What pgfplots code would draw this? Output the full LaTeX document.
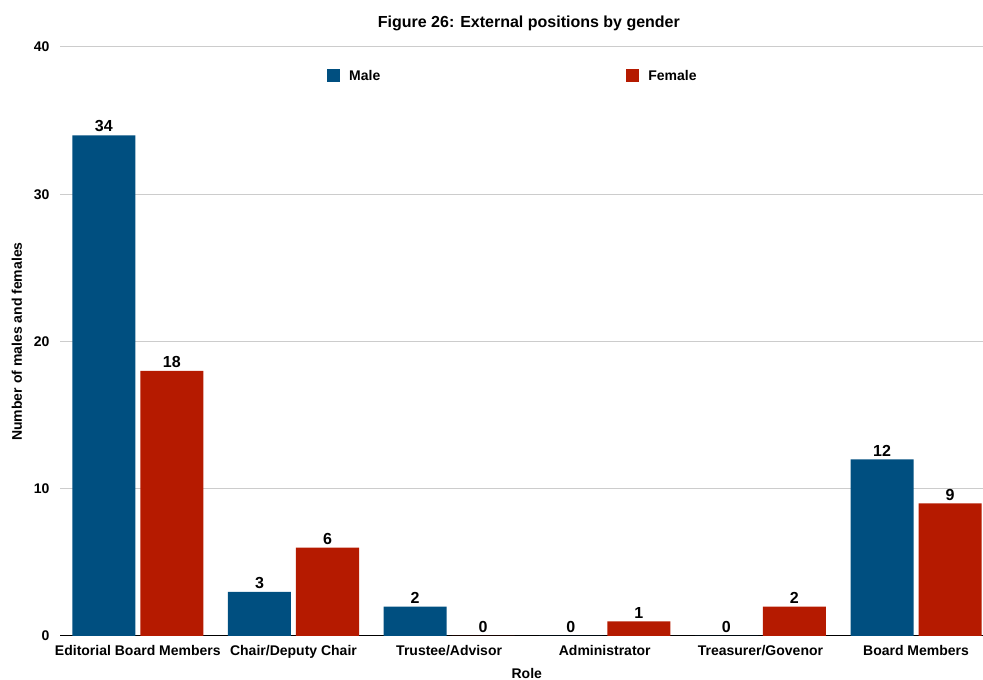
\documentclass[border=0pt]{standalone}
\usepackage{fontspec}
\setmainfont{Liberation Sans}
\usepackage{pgfplots}
\pgfplotsset{compat=1.18}
\definecolor{male}{HTML}{004F80}
\definecolor{female}{HTML}{B51A00}
\definecolor{gridc}{HTML}{CCCCCC}
\begin{document}
\begin{tikzpicture}
\useasboundingbox (0,0) rectangle (983pt,680pt);
\begin{axis}[
  at={(60pt,44pt)}, anchor=south west,
  scale only axis, width=923pt, height=589pt,
  ybar, bar width=0.405,
  xmin=-0.5, xmax=5.43, ymin=0, ymax=40,
  /pgf/number format/assume math mode=true,
  ytick={0,10,20,30,40},
  xtick={0,1,2,3,4,5},
  xticklabels={Editorial Board Members, Chair/Deputy Chair, Trustee/Advisor, Administrator, Treasurer/Govenor, Board Members},
  axis lines*=left,
  y axis line style={draw=none},
  x axis line style={black, line width=1pt},
  major tick length=0pt,
  ymajorgrids, grid style={gridc, line width=1pt},
  tick label style={font=\bfseries\fontsize{14}{14}\selectfont},
  xticklabel style={anchor=base, yshift=-20pt},
  yticklabel style={xshift=-7pt},
  title={Figure 26: External positions by gender},
  title style={font=\bfseries\fontsize{16}{16}\selectfont, at={(axis description cs:0.508,1)}, anchor=base, yshift=13pt},
  xlabel={Role},
  xlabel style={font=\bfseries\fontsize{14}{14}\selectfont, at={(axis description cs:0.5057,0)}, anchor=base, inner sep=0pt, yshift=-42.5pt},
  ylabel={Number of males and females},
  ylabel style={font=\bfseries\fontsize{14}{14}\selectfont, at={(axis description cs:-0.0466,0.5)}, anchor=center},
  legend columns=2,
  legend cell align=left,
  legend style={draw=none, fill=none, inner sep=0pt, at={(0.2893,0.9508)}, anchor=west,
    font=\bfseries\fontsize{14}{14}\selectfont,
    /tikz/every odd column/.append style={column sep=7pt},
    /tikz/every even column/.append style={column sep=244pt}},
  legend image code/.code={\fill[#1] (0pt,-6.5pt) rectangle (13pt,6.5pt);},
  nodes near coords,
  every node near coord/.append style={font=\bfseries\fontsize{16}{16}\selectfont, anchor=south, inner sep=3pt, black},
]
\addplot[fill=male, draw=none, bar shift=-0.2185]
  coordinates {(0,34) (1,3) (2,2) (3,0) (4,0) (5,12)};
\addplot[fill=female, draw=none, bar shift=0.2185]
  coordinates {(0,18) (1,6) (2,0) (3,1) (4,2) (5,9)};
\legend{Male, Female}
\end{axis}
\end{tikzpicture}
\end{document}
